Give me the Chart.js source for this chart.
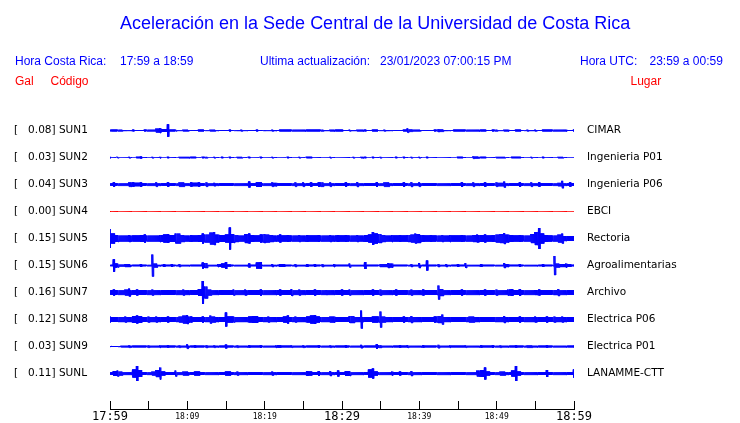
<!DOCTYPE html>
<html>
<head>
<meta charset="utf-8">
<script src="https://cdn.jsdelivr.net/npm/chart.js@4"></script>
<style>
  body { margin: 0; background: #fff; }
  #wrap { position: relative; width: 740px; height: 423px; overflow: hidden; }
  #wrap canvas { position: absolute; left: 0; top: 0; }
  .txt { position: absolute; font-family: "Liberation Sans", Arial, sans-serif; white-space: pre; color: #0000ff; }
  .title { font-size: 18px; line-height: 20px; top: 13px; }
  .head { font-size: 12px; line-height: 14px; top: 54.3px; }
  .red { font-size: 12px; line-height: 14px; top: 74.3px; color: #ff0000; }
</style>
</head>
<body>
<div id="wrap">
  <canvas id="sismo" width="740" height="423"></canvas>
  <div class="txt title" style="left:120px">Aceleración en la Sede Central de la Universidad de Costa Rica</div>
  <div class="txt head" style="left:15px">Hora Costa Rica:</div>
  <div class="txt head" style="left:120px">17:59 a 18:59</div>
  <div class="txt head" style="left:260px">Ultima actualización:</div>
  <div class="txt head" style="left:380px">23/01/2023 07:00:15 PM</div>
  <div class="txt head" style="left:580px">Hora UTC:</div>
  <div class="txt head" style="left:649.5px">23:59 a 00:59</div>
  <div class="txt red" style="left:15px">Gal</div>
  <div class="txt red" style="left:50.5px">Código</div>
  <div class="txt red" style="left:630.5px">Lugar</div>
</div>
<script>
// time axis: minutes after 17:59 (local)
const tickMinutes = [0, 10, 20, 30, 40, 50, 60];
const tickLabels = ['17:59', '18:09', '18:19', '18:29', '18:39', '18:49', '18:59'];
const majorTicks = [0, 30, 60];

const codes = ['SUN1', 'SUN2', 'SUN3', 'SUN4', 'SUN5', 'SUN6', 'SUN7', 'SUN8', 'SUN9', 'SUNL'];
const peakGal = [0.08, 0.03, 0.04, 0.00, 0.15, 0.15, 0.16, 0.12, 0.03, 0.11];
const places = ['CIMAR', 'Ingenieria P01', 'Ingenieria P06', 'EBCI', 'Rectoria',
  'Agroalimentarias', 'Archivo', 'Electrica P06', 'Electrica P01', 'LANAMME-CTT'];

// trace envelopes, one value per half minute (17:59 .. 18:59), display counts
const sun1 = [
  0.85, 0.85, 0.85, 0.85, 0.5, 0.4, 0.85, 0.4, 0.4, 0.85,
  0.85, 0.85, 2.0, 2.5, 1.5, 6.2, 0.85, 0.85, 0.4, 0.85,
  0.85, 0.4, 0.5, 0.85, 0.85, 0.4, 0.85, 0.85, 0.4, 0.5,
  0.4, 0.85, 0.4, 0.5, 0.85, 0.4, 0.5, 0.4, 0.85, 0.4,
  0.5, 0.4, 0.85, 0.5, 0.85, 0.85, 0.85, 0.85, 0.85, 0.85,
  0.85, 0.85, 0.85, 0.85, 0.85, 0.85, 0.5, 0.85, 0.85, 0.85,
  0.85, 0.4, 0.85, 0.5, 0.85, 0.85, 0.85, 0.5, 0.85, 0.85,
  0.4, 0.85, 0.5, 0.4, 0.5, 0.4, 0.85, 2.2, 1.2, 0.85,
  0.85, 0.4, 0.5, 0.4, 0.85, 1.5, 1.2, 0.5, 0.4, 0.85,
  0.85, 0.85, 0.85, 0.85, 0.85, 0.85, 0.85, 0.85, 0.5, 0.85,
  0.85, 0.4, 0.85, 0.85, 0.5, 0.85, 0.85, 0.4, 0.85, 0.5,
  0.85, 0.4, 0.85, 0.85, 0.85, 0.85, 0.85, 0.85, 0.85, 0.5,
  0.85
];
const sun2 = [
  0.7, 0, 0.7, 0, 0, 0.7, 0, 0.7, 1.0, 0,
  0, 0.7, 0, 0.7, 0, 0.7, 0, 0, 0.7, 0.7,
  0.7, 0.7, 0.7, 0, 0.7, 0.7, 0, 0.7, 0, 0.7,
  0, 0.7, 0, 0.7, 0.7, 0, 0.7, 0, 0, 0.7,
  0, 0, 0.7, 0, 0, 0, 0.7, 0, 0, 0.7,
  0, 0.7, 0.7, 0, 0, 0, 0, 0.7, 0, 0,
  0, 0, 0, 0.7, 0, 0.7, 0.7, 0, 0.7, 0,
  0.7, 0, 0, 0, 0.7, 0, 0.7, 0, 0.7, 0,
  0.7, 0, 0.7, 0, 0, 0, 0, 0, 0, 0,
  0.7, 0.7, 0, 0, 1.2, 1.0, 0.7, 0.7, 0, 0,
  0.7, 0.7, 0.7, 0, 0.7, 0.7, 0.7, 0, 0, 0.7,
  0, 0, 0.7, 0, 0, 0, 0.7, 0.7, 0, 0,
  0
];
const sun3 = [
  1.2, 2.2, 1.2, 1.2, 1.2, 2.2, 2.2, 1.7, 2.2, 1.2,
  1.2, 1.2, 2.2, 1.2, 1.2, 2.2, 1.2, 1.2, 2.2, 2.2,
  1.2, 2.2, 1.7, 2.2, 1.2, 2.2, 1.2, 1.7, 1.2, 1.2,
  1.2, 1.2, 1.2, 1.2, 1.2, 1.2, 3.0, 1.2, 2.2, 2.2,
  1.2, 1.2, 2.2, 1.7, 1.2, 1.2, 1.2, 1.2, 2.2, 1.2,
  2.2, 1.2, 2.2, 1.2, 2.2, 2.2, 1.2, 2.2, 1.2, 1.2,
  1.2, 2.2, 1.2, 1.2, 2.4, 1.2, 1.2, 1.2, 1.2, 2.2,
  1.2, 2.2, 2.2, 1.2, 1.2, 1.2, 2.2, 1.2, 2.4, 1.2,
  2.2, 1.2, 1.2, 1.2, 1.2, 1.2, 1.2, 1.2, 1.2, 1.2,
  1.2, 2.2, 1.2, 1.2, 2.2, 1.2, 1.2, 2.2, 1.2, 1.2,
  2.2, 1.7, 3.0, 1.2, 1.2, 1.2, 2.2, 1.2, 1.2, 2.2,
  1.2, 2.2, 1.2, 1.2, 1.2, 1.2, 1.7, 3.7, 1.2, 2.2,
  1.2
];
const sun4 = [
  0, 0, 0, 0, 0, 0, 0, 0, 0, 0,
  0, 0, 0, 0, 0, 0, 0, 0, 0, 0,
  0, 0, 0, 0, 0, 0, 0, 0, 0, 0,
  0, 0, 0, 0, 0, 0, 0, 0, 0, 0,
  0, 0, 0, 0, 0, 0, 0, 0, 0, 0,
  0, 0, 0, 0, 0, 0, 0, 0, 0, 0,
  0, 0, 0, 0, 0, 0, 0, 0, 0, 0,
  0, 0, 0, 0, 0, 0, 0, 0, 0, 0,
  0, 0, 0, 0, 0, 0, 0, 0, 0, 0,
  0, 0, 0, 0, 0, 0, 0, 0, 0, 0,
  0, 0, 0, 0, 0, 0, 0, 0, 0, 0,
  0, 0, 0, 0, 0, 0, 0, 0, 0, 0,
  0
];
const sun5 = [
  9.5, 5.0, 3.5, 3.0, 3.0, 3.5, 3.0, 3.0, 3.5, 4.0,
  3.0, 3.0, 3.0, 3.5, 4.0, 4.5, 3.5, 5.0, 5.0, 3.5,
  3.0, 3.5, 3.0, 3.5, 5.0, 4.0, 6.0, 6.5, 4.0, 3.5,
  4.0, 11.0, 4.5, 3.5, 3.0, 4.5, 5.0, 3.5, 3.0, 4.0,
  4.5, 4.0, 3.5, 3.0, 4.0, 3.0, 3.5, 3.0, 3.0, 3.5,
  3.0, 3.5, 3.0, 3.0, 3.5, 3.0, 3.0, 3.5, 3.0, 3.5,
  3.0, 3.5, 3.0, 3.0, 3.5, 3.0, 3.5, 4.0, 6.5, 5.0,
  4.5, 3.5, 3.0, 3.5, 3.0, 3.5, 3.0, 3.5, 4.0, 5.0,
  4.5, 3.5, 3.0, 3.5, 3.0, 3.0, 3.5, 3.0, 3.5, 3.0,
  3.0, 3.5, 3.0, 3.0, 3.5, 4.0, 3.5, 4.0, 3.0, 3.5,
  4.0, 4.5, 5.5, 4.0, 3.5, 3.0, 3.5, 3.0, 3.0, 4.5,
  6.5, 10.5, 5.0, 3.5, 3.0, 3.0, 4.0, 5.0, 2.5, 2.5,
  2.5
];
const sun6 = [
  0.7, 6.2, 2.0, 1.0, 1.5, 1.5, 0.7, 0.7, 1.5, 0.7,
  0.7, 11.0, 2.0, 0.7, 1.5, 0.7, 1.5, 0.7, 1.5, 0.7,
  0.7, 0.7, 0.7, 0.7, 3.0, 2.5, 0.7, 0.7, 1.5, 2.0,
  3.5, 1.0, 0.7, 0.7, 0.7, 0.7, 2.0, 0.7, 3.0, 3.5,
  0.7, 0.7, 1.5, 0.7, 1.5, 1.5, 0.7, 0.7, 1.5, 0.7,
  0.7, 1.5, 0.7, 1.5, 0.7, 1.5, 0.7, 0.7, 1.5, 0.7,
  0.7, 0.7, 2.0, 0.7, 0.7, 0.7, 3.5, 0.7, 0.7, 0.7,
  1.5, 1.5, 2.5, 2.0, 0.7, 0.7, 0.7, 0.7, 1.5, 0.7,
  2.5, 0.7, 5.0, 0.7, 0.7, 1.5, 0.7, 1.5, 0.7, 0.7,
  1.5, 0.7, 2.5, 0.7, 0.7, 0.7, 1.5, 0.7, 0.7, 0.7,
  0.7, 0.7, 2.5, 1.5, 0.7, 0.7, 1.5, 0.7, 0.7, 0.7,
  0.7, 0.7, 1.5, 0.7, 0.7, 9.5, 2.0, 1.5, 2.0, 1.5,
  0.7
];
const sun7 = [
  2.3, 3.0, 2.3, 2.3, 3.0, 4.0, 2.3, 3.0, 2.3, 2.3,
  2.3, 3.0, 2.3, 2.3, 2.3, 2.5, 2.3, 2.3, 2.3, 3.0,
  2.3, 2.3, 2.5, 3.5, 11.5, 6.0, 3.0, 2.3, 2.3, 2.5,
  2.3, 2.3, 3.0, 2.3, 2.3, 3.0, 2.3, 2.3, 2.5, 3.0,
  2.3, 2.3, 2.3, 2.5, 3.0, 2.3, 2.5, 3.5, 2.3, 3.0,
  2.3, 2.3, 2.5, 3.0, 2.3, 2.3, 2.5, 2.3, 2.3, 2.5,
  3.0, 2.3, 3.0, 2.3, 2.3, 2.3, 2.3, 2.3, 3.0, 2.5,
  3.0, 2.3, 2.3, 2.3, 3.0, 2.3, 2.3, 2.3, 3.0, 2.3,
  2.3, 3.0, 2.3, 2.3, 2.5, 7.0, 3.5, 2.3, 2.3, 2.3,
  2.5, 3.0, 2.3, 2.3, 2.3, 2.3, 2.5, 3.0, 2.3, 2.3,
  3.0, 2.3, 2.3, 3.0, 3.5, 2.5, 3.5, 2.3, 2.3, 2.3,
  2.5, 3.0, 2.3, 2.3, 2.3, 2.5, 3.5, 2.3, 2.3, 2.3,
  2.3
];
const sun8 = [
  3.0, 2.5, 2.5, 2.5, 3.0, 2.5, 3.5, 4.0, 3.5, 2.5,
  3.0, 2.5, 3.0, 2.5, 2.5, 3.0, 2.5, 2.5, 3.0, 4.0,
  4.5, 3.0, 2.5, 2.5, 3.0, 2.5, 4.0, 3.0, 2.5, 2.5,
  7.0, 3.0, 3.0, 2.5, 2.5, 2.5, 3.0, 3.5, 3.5, 2.5,
  2.5, 3.0, 2.5, 2.5, 2.5, 3.0, 4.0, 2.5, 3.0, 2.5,
  2.5, 3.0, 4.0, 4.5, 3.0, 2.5, 2.5, 3.0, 3.0, 2.5,
  2.5, 2.5, 3.5, 3.5, 2.5, 9.0, 2.5, 2.5, 3.0, 3.0,
  8.0, 3.0, 2.5, 2.5, 2.5, 2.5, 3.0, 2.5, 3.5, 2.5,
  2.5, 2.5, 2.5, 2.5, 3.0, 3.5, 5.0, 2.5, 2.5, 2.5,
  2.5, 2.5, 2.5, 3.0, 3.0, 2.5, 2.5, 2.5, 2.5, 2.5,
  2.5, 2.5, 3.5, 2.5, 2.5, 2.5, 3.0, 2.5, 2.5, 2.5,
  3.0, 2.5, 2.5, 3.0, 2.5, 3.0, 2.5, 3.0, 2.5, 2.5,
  2.5
];
const sun9 = [
  0.5, 0.5, 0.5, 0.8, 0.8, 1.2, 0.8, 0.8, 0.8, 0.8,
  1.2, 0.8, 0.8, 1.2, 0.8, 1.2, 0.8, 0.8, 1.2, 0.8,
  2.2, 0.8, 1.2, 0.8, 0.8, 1.4, 0.8, 1.2, 0.8, 0.8,
  1.9, 0.8, 0.8, 1.2, 0.8, 0.8, 1.2, 0.8, 0.8, 1.2,
  0.8, 0.8, 0.8, 1.2, 1.2, 0.8, 0.8, 1.2, 0.8, 0.8,
  1.2, 0.8, 0.8, 0.8, 1.2, 0.8, 0.8, 1.2, 0.8, 0.8,
  0.8, 1.2, 0.8, 0.8, 0.8, 1.7, 0.8, 0.8, 0.8, 2.2,
  1.4, 0.8, 0.8, 0.8, 0.8, 1.2, 0.8, 1.4, 0.8, 0.8,
  0.8, 1.2, 0.8, 0.8, 0.8, 1.7, 0.8, 0.8, 1.2, 0.8,
  0.8, 0.8, 1.2, 0.8, 0.8, 0.8, 1.2, 0.8, 0.8, 1.2,
  0.8, 1.2, 0.8, 0.8, 0.8, 1.2, 0.8, 0.8, 1.2, 1.2,
  0.8, 0.8, 0.8, 1.2, 0.8, 0.8, 0.8, 0.8, 0.8, 0.8,
  0.8
];
const sunl = [
  1.3, 2.5, 3.0, 2.0, 1.3, 1.3, 4.0, 7.5, 3.5, 1.3,
  1.3, 2.0, 3.5, 6.0, 2.0, 1.3, 1.3, 3.0, 1.3, 2.0,
  2.0, 1.3, 2.0, 2.0, 1.3, 1.3, 1.3, 1.3, 1.3, 1.3,
  2.0, 2.0, 1.3, 2.0, 1.3, 1.3, 1.3, 1.3, 1.3, 1.3,
  1.3, 1.3, 2.0, 1.3, 1.3, 1.3, 1.3, 1.3, 1.3, 1.3,
  1.3, 2.5, 2.0, 1.3, 2.5, 1.3, 1.3, 2.5, 1.3, 3.0,
  1.3, 2.5, 2.5, 1.3, 1.3, 1.3, 1.3, 4.0, 5.0, 2.0,
  1.3, 1.3, 1.3, 2.0, 1.3, 2.0, 1.3, 1.3, 2.5, 1.3,
  1.3, 1.3, 1.3, 1.3, 1.3, 1.3, 1.3, 1.3, 1.3, 1.3,
  1.3, 1.3, 1.3, 1.3, 1.3, 3.0, 3.5, 6.0, 2.0, 1.3,
  1.3, 2.0, 2.0, 1.3, 3.0, 7.5, 2.0, 1.3, 1.3, 1.3,
  1.3, 1.3, 1.3, 3.5, 1.3, 1.3, 1.3, 1.3, 1.3, 1.3,
  4.0
];

const traces = [sun1, sun2, sun3, sun4, sun5, sun6, sun7, sun8, sun9, sunl];
const traceColors = ['#0000ff', '#0000ff', '#0000ff', '#ff0000', '#0000ff',
  '#0000ff', '#0000ff', '#0000ff', '#0000ff', '#0000ff'];

const rowGap = 27;
const leftLabels = codes.map((c, i) => `[   ${peakGal[i].toFixed(2)}] ${c}`);

// each half-minute value swings up and down around its row; the peak sits in the
// middle of its interval, the edges never go above the neighbouring reading
function tracePoints(amps, row) {
  const step = 60 / (amps.length - 1);
  const pts = [];
  amps.forEach((a, k) => {
    const prev = k > 0 ? amps[k - 1] : a;
    const next = k < amps.length - 1 ? amps[k + 1] : a;
    for (let j = 0; j < 8; j++) {
      const x = Math.min(60, Math.max(0, k * step + step * (j - 3.5) / 8));
      const amp = j < 2 ? Math.min(a, prev) : j > 5 ? Math.min(a, next) : a;
      pts.push({ x, y: row + (j % 2 ? amp : -amp) });
    }
  });
  return pts;
}

const datasets = traces.map((amps, i) => ({
  data: tracePoints(amps, (i + 1) * rowGap),
  borderColor: traceColors[i],
  borderWidth: 1,
  borderJoinStyle: 'bevel',
  pointRadius: 0,
  fill: false,
  tension: 0,
}));

const monoBig = { family: 'DejaVu Sans Mono', size: 12, lineHeight: '14px' };
const monoSmall = { family: 'DejaVu Sans Mono', size: 8, lineHeight: '14px' };
const labelFont = { family: 'DejaVu Sans', size: 10.5 };

new Chart(document.getElementById('sismo'), {
  type: 'line',
  data: { datasets },
  options: {
    responsive: false,
    animation: false,
    events: [],
    layout: { padding: { left: 14, top: 103.5, right: 0, bottom: 0 } },
    plugins: { legend: { display: false }, tooltip: { enabled: false } },
    scales: {
      x: {
        type: 'linear', min: 0, max: 60, position: 'bottom',
        ticks: { display: false, stepSize: 5 },
        grid: { drawOnChartArea: false, tickLength: 9, color: '#000', lineWidth: 1 },
        border: { display: false },
        afterFit: (s) => { s.height = 9; },
      },
      x2: {
        type: 'linear', min: 0, max: 60, position: 'bottom', weight: 1,
        grid: { display: false, drawTicks: false },
        border: { display: true, color: '#000', width: 1 },
        afterBuildTicks: (s) => { s.ticks = tickMinutes.map((v) => ({ value: v })); },
        ticks: {
          autoSkip: false, maxRotation: 0, padding: 0, color: '#000',
          font: (c) => (c.tick && majorTicks.includes(c.tick.value) ? monoBig : monoSmall),
          callback: (v, i) => tickLabels[i],
        },
        afterFit: (s) => { s.height = 13.5; },
      },
      y: {
        type: 'linear', min: 0, max: 11 * rowGap, reverse: true, position: 'left',
        grid: { display: false, drawTicks: false },
        border: { display: false },
        afterBuildTicks: (s) => { s.ticks = codes.map((c, i) => ({ value: (i + 1) * rowGap })); },
        ticks: { crossAlign: 'far', padding: 0, color: '#000', font: labelFont, callback: (v, i) => leftLabels[i] },
        afterFit: (s) => { s.width = 96; },
      },
      yR: {
        type: 'linear', min: 0, max: 11 * rowGap, reverse: true, position: 'right',
        grid: { display: false, drawTicks: false },
        border: { display: false },
        afterBuildTicks: (s) => { s.ticks = places.map((p, i) => ({ value: (i + 1) * rowGap })); },
        ticks: { crossAlign: 'near', padding: 13, color: '#000', font: labelFont, callback: (v, i) => places[i] },
        afterFit: (s) => { s.width = 166; },
      },
    },
  },
});
</script>
</body>
</html>
